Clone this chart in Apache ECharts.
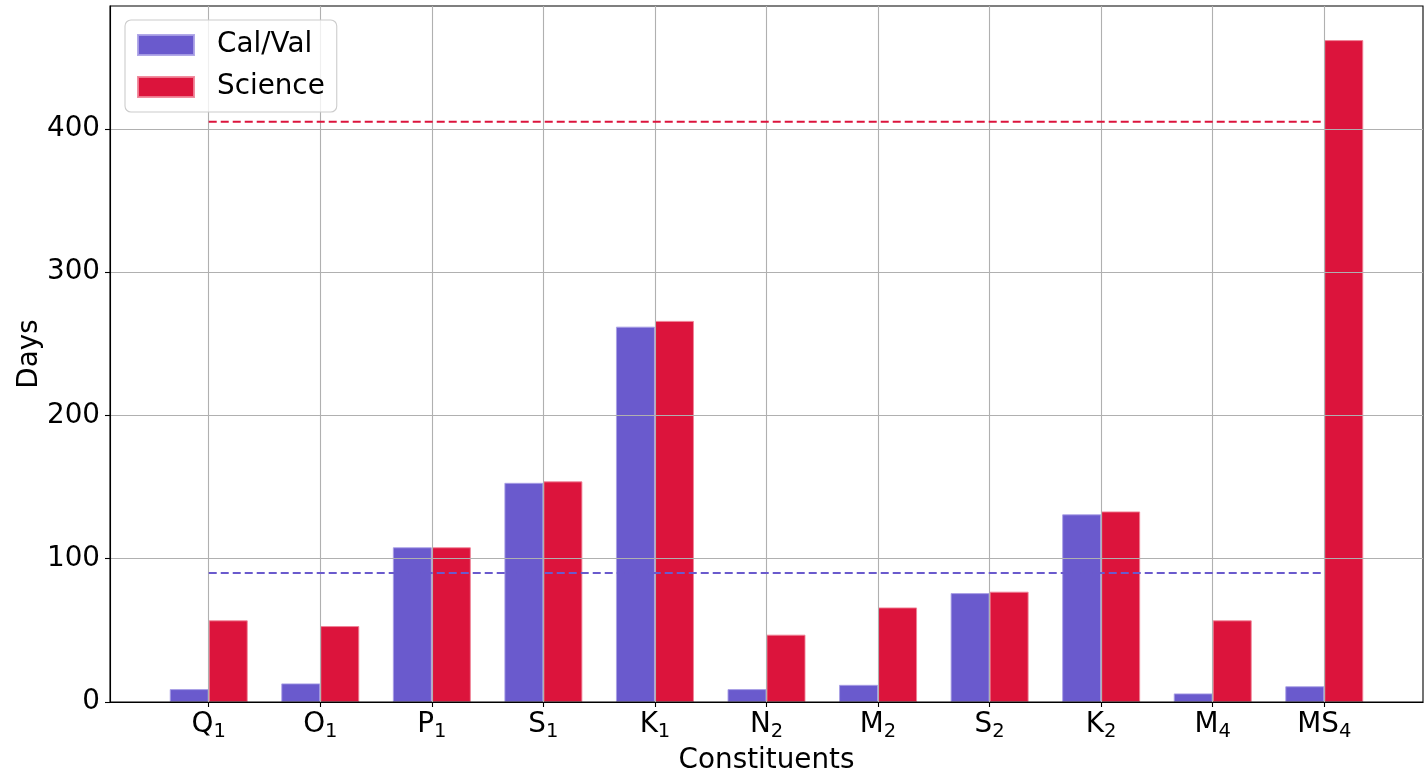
<!DOCTYPE html>
<html>
<head>
<meta charset="utf-8">
<script src="https://cdn.jsdelivr.net/npm/echarts@6/dist/echarts.min.js"></script>
<style>
html,body{margin:0;padding:0;background:#fff;}
#c{width:1427px;height:773px;}
</style>
</head>
<body>
<div id="c"></div>
<script>
const constituents = [['Q','1'],['O','1'],['P','1'],['S','1'],['K','1'],['N','2'],['M','2'],['S','2'],['K','2'],['M','4'],['MS','4']];
const calVal  = [9, 13, 108, 153, 262, 9, 12, 76, 131, 6, 11];
const science = [57, 53, 108, 154, 266, 47, 66, 77, 133, 57, 462];
const calValThreshold = 90;
const scienceThreshold = 405;
const yTicks = [0, 100, 200, 300, 400];

const FS = 27.8;
const FONT = 'DejaVu Sans';
const positions = constituents.map((c, i) => i);
const last = constituents.length - 1;

const chart = echarts.init(document.getElementById('c'), null, {renderer: 'canvas'});
chart.setOption({
  animation: false,
  backgroundColor: '#fff',
  textStyle: {fontFamily: FONT, color: '#000'},
  grid: {left: 110, right: 4, top: 6, bottom: 71, containLabel: false, outerBoundsMode: 'none',
         show: true, borderColor: '#000', borderWidth: 1.1, backgroundColor: 'transparent', z: 2},
  legend: {
    orient: 'vertical', left: 125, top: 20,
    padding: [11, 12, 11, 12],
    itemWidth: 56, itemHeight: 20, itemGap: 14,
    backgroundColor: 'rgba(255,255,255,0.8)',
    borderColor: '#cccccc', borderWidth: 1.1, borderRadius: 6,
    icon: 'rect',
    textStyle: {fontSize: FS, fontFamily: FONT, color: '#000', lineHeight: 28, padding: [0, 0, 0, 18]},
    data: ['Cal/Val', 'Science']
  },
  xAxis: {
    type: 'value', min: -0.885, max: last + 0.885,
    z: 2,
    name: 'Constituents', nameLocation: 'middle', nameGap: 40,
    nameTextStyle: {fontSize: FS, fontFamily: FONT, color: '#000'},
    axisLine: {show: true, onZero: false, lineStyle: {color: '#000', width: 1.1}},
    axisTick: {show: true, length: 5, inside: false, customValues: positions, lineStyle: {color: '#000', width: 1.1}},
    splitLine: {show: true, lineStyle: {color: '#b0b0b0', width: 1.1}},
    axisLabel: {
      customValues: positions, margin: 6,
      formatter: function (v) {
        const c = constituents[Math.round(v)];
        return c ? '{b|' + c[0] + '}{s|' + c[1] + '}' : '';
      },
      rich: {
        b: {fontSize: FS, fontFamily: FONT, color: '#000', lineHeight: 34},
        s: {fontSize: 19.5, fontFamily: FONT, color: '#000', lineHeight: 20, verticalAlign: 'bottom'}
      }
    }
  },
  yAxis: {
    type: 'value', min: 0, max: 485.8, interval: 100,
    z: 2,
    name: 'Days', nameLocation: 'middle', nameGap: 66, nameRotate: 90, nameMoveOverlap: false,
    nameTextStyle: {fontSize: FS, fontFamily: FONT, color: '#000'},
    axisLine: {show: true, onZero: false, lineStyle: {color: '#000', width: 1.1}},
    axisTick: {show: true, length: 5, customValues: yTicks, lineStyle: {color: '#000', width: 1.1}},
    splitLine: {show: true, lineStyle: {color: '#b0b0b0', width: 1.1}},
    axisLabel: {customValues: yTicks, fontSize: FS, fontFamily: FONT, color: '#000', margin: 10}
  },
  series: [
    {
      name: 'Cal/Val', type: 'bar', z: 1,
      barWidth: 39, barGap: '0%',
      itemStyle: {color: '#6A5ACD', borderColor: 'rgba(170,160,230,0.9)', borderWidth: 1},
      data: calVal.map((v, i) => [positions[i], v])
    },
    {
      name: 'Science', type: 'bar', z: 1,
      barWidth: 39, barGap: '0%',
      itemStyle: {color: '#DC143C', borderColor: 'rgba(240,130,150,0.9)', borderWidth: 1},
      data: science.map((v, i) => [positions[i], v])
    },
    {
      name: 'calThreshold', type: 'line', z: 3, symbol: 'none', silent: true,
      lineStyle: {color: '#6A5ACD', width: 2, type: [8, 4]},
      data: [[positions[0], calValThreshold], [positions[last], calValThreshold]]
    },
    {
      name: 'sciThreshold', type: 'line', z: 3, symbol: 'none', silent: true,
      lineStyle: {color: '#DC143C', width: 2, type: [8, 4]},
      data: [[positions[0], scienceThreshold], [positions[last], scienceThreshold]]
    }
  ]
});
</script>
</body>
</html>
